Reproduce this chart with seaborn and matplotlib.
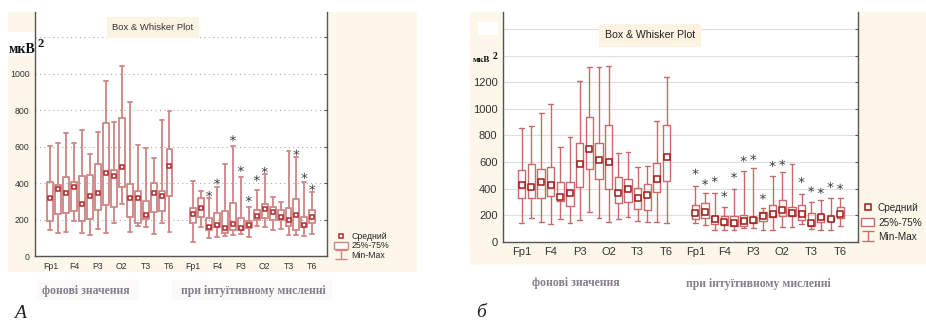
import numpy as np
import pandas as pd
import matplotlib
matplotlib.use('Agg')
import matplotlib.pyplot as plt
import seaborn as sns
from matplotlib.patches import Rectangle, Patch
from matplotlib.lines import Line2D

# канали ЕЕГ (16) для кожного стану
channels = ['Fp1', 'Fp2', 'F3', 'F4', 'C3', 'C4', 'P3', 'P4',
            'O1', 'O2', 'F7', 'F8', 'T3', 'T4', 'T5', 'T6']
shown = ['Fp1', 'F4', 'P3', 'O2', 'T3', 'T6']

nan = np.nan

# ---- панель А ----
a_bg_mean = [320, 366, 347, 380, 283, 329, 347, 453, 439, 486, 320, 320, 227, 344, 329, 495]
a_bg_q1 = [194, 229, 238, 249, 190, 201, 252, 278, 271, 377, 212, 179, 203, 239, 249, 331]
a_bg_q3 = [408, 390, 435, 406, 439, 444, 503, 728, 472, 755, 393, 358, 302, 399, 358, 587]
a_bg_min = [143, 128, 133, 194, 128, 113, 150, 124, 179, 285, 133, 165, 161, 121, 179, 133]
a_bg_max = [605, 622, 675, 622, 691, 559, 682, 960, 737, 1044, 846, 609, 590, 539, 746, 795]

a_in_mean = [230, 261, 161, 170, 152, 174, 152, 170, 219, 256, 243, 212, 197, 225, 170, 216]
a_in_q1 = [179, 216, 143, 161, 128, 143, 143, 152, 197, 207, 197, 197, 166, 143, 161, 183]
a_in_q3 = [261, 316, 207, 234, 249, 289, 210, 194, 252, 283, 267, 252, 261, 311, 216, 252]
a_in_min = [79, 161, 97, 106, 110, 115, 121, 106, 165, 161, 143, 146, 115, 115, 112, 121]
a_in_max = [413, 358, 320, 380, 505, 605, 435, 267, 362, 450, 325, 298, 578, 545, 408, 353]
a_in_ext = [nan, nan, 340, 408, nan, 645, 477, 313, 426, 472, nan, nan, nan, 567, 439, 375]

# ---- панель б ----
b_bg_mean = [429, 414, 452, 424, 334, 369, 585, 700, 615, 600, 369, 397, 331, 351, 469, 640]
b_bg_q1 = [329, 329, 329, 344, 309, 269, 409, 547, 472, 399, 294, 299, 244, 239, 377, 457]
b_bg_q3 = [537, 582, 545, 565, 452, 452, 741, 941, 746, 881, 485, 475, 402, 432, 595, 881]
b_bg_min = [143, 176, 151, 133, 171, 138, 163, 226, 176, 151, 173, 188, 158, 146, 151, 143]
b_bg_max = [859, 871, 972, 1037, 711, 791, 1213, 1318, 1313, 1323, 665, 678, 565, 570, 911, 1243]

b_in_mean = [218, 226, 171, 148, 141, 156, 163, 193, 208, 239, 213, 208, 138, 183, 168, 206]
b_in_q1 = [168, 176, 133, 123, 118, 118, 143, 156, 188, 196, 193, 163, 118, 151, 158, 176]
b_in_q3 = [276, 289, 193, 193, 196, 198, 188, 221, 276, 314, 264, 276, 213, 201, 188, 259]
b_in_min = [138, 126, 88, 88, 88, 100, 100, 88, 88, 108, 113, 133, 98, 88, 88, 118]
b_in_max = [419, 364, 364, 264, 397, 532, 552, 251, 497, 522, 585, 359, 301, 314, 326, 331]
b_in_ext = [527, 447, 469, 357, 500, 623, 635, 339, 585, 595, nan, 464, 394, 382, 427, 414]

W, H = 926, 324
BEIGE = '#fdf7ea'
TXT = '#857e8e'

sns.set_style('white')
plt.rcParams['font.family'] = ['Liberation Sans', 'DejaVu Sans']

fig = plt.figure(figsize=(W / 100, H / 100), dpi=100)


def rect(x, y, w, h):
    return [x / W, 1 - (y + h) / H, w / W, h / H]


def bg(x, y, w, h, color):
    r = rect(x, y, w, h)
    fig.add_artist(Rectangle((r[0], r[1]), r[2], r[3], transform=fig.transFigure,
                             facecolor=color, edgecolor='none', zorder=-10))


def panel(ax, parts, ext, lc, lw, mc, ms, fs, ytop, ymax_lab, grid_style):
    pos = list(range(16)) + list(range(18, 34))
    mean = parts[0][0] + parts[1][0]
    q1 = parts[0][1] + parts[1][1]
    q3 = parts[0][2] + parts[1][2]
    lo = parts[0][3] + parts[1][3]
    hi = parts[0][4] + parts[1][4]
    stats = [dict(med=m, q1=a, q3=b, whislo=c, whishi=d, fliers=[])
             for m, a, b, c, d in zip(mean, q1, q3, lo, hi)]
    line = dict(color=lc, linewidth=lw)
    ax.bxp(stats, positions=pos, widths=0.75, capwidths=0.5, showfliers=False,
           boxprops=line, whiskerprops=line, capprops=line,
           medianprops=dict(visible=False), patch_artist=False, manage_ticks=False)
    df = pd.DataFrame({'pos': pos, 'mean': mean})
    sns.scatterplot(data=df, x='pos', y='mean', marker='s', s=ms, color='white',
                    edgecolor=mc, linewidth=1.1, ax=ax, zorder=5)
    de = pd.DataFrame({'pos': list(range(18, 34)), 'ext': ext}).dropna()
    sns.scatterplot(data=de, x='pos', y='ext', marker='$*$', s=20, color='#3c3c3c',
                    edgecolor='none', ax=ax, zorder=5)

    ax.set_xlim(-1.95, 34.85)
    ax.set_ylim(0, ytop)
    ticks = list(range(-1, 35))
    labels = []
    for t in ticks:
        if 0 <= t < 16 and channels[t] in shown:
            labels.append(channels[t])
        elif 18 <= t < 34 and channels[t - 18] in shown:
            labels.append(channels[t - 18])
        else:
            labels.append('')
    ax.set_xticks(ticks)
    ax.set_xticklabels(labels, fontsize=fs, color='#333333')
    yt = list(range(0, int(ytop) + 1, 200))
    ax.set_yticks(yt)
    ax.set_yticklabels([str(v) if v <= ymax_lab else '' for v in yt], fontsize=fs, color='#333333')
    ax.tick_params(axis='both', direction='in', length=2.5, width=0.8, color='#555555')
    ax.tick_params(axis='x', pad=4)
    ax.tick_params(axis='y', pad=4, right=True)
    ax.grid(False)
    ax.yaxis.grid(True, **grid_style)
    ax.set_axisbelow(True)
    ax.set_xlabel('')
    ax.set_ylabel('')
    for s in ['left', 'bottom', 'right']:
        ax.spines[s].set_visible(True)
        ax.spines[s].set_color('#555555')
        ax.spines[s].set_linewidth(1.0)
    ax.spines['top'].set_visible(False)
    ax.set_facecolor('white')


def legend(ax, x, y, lc, mc, fs, ms, hl, sp):
    eb = ax.errorbar([np.nan], [np.nan], yerr=[1], fmt='none', ecolor=lc,
                     elinewidth=1.0, capsize=4, capthick=1.0)
    handles = [Line2D([], [], ls='none', marker='s', markersize=ms, markerfacecolor='white',
                      markeredgecolor=mc, markeredgewidth=1.1),
               Patch(facecolor='white', edgecolor=lc, linewidth=1.0),
               eb]
    fig.legend(handles, ['Средний', '25%-75%', 'Min-Max'], loc='upper left',
               bbox_to_anchor=(x / W, 1 - y / H), frameon=False, fontsize=fs,
               handlelength=hl, handleheight=0.9, handletextpad=0.4,
               labelspacing=sp, borderpad=0, borderaxespad=0)


# фон
bg(8, 12, 409, 260, BEIGE)
bg(470, 12, 456, 253, BEIGE)
bg(8, 32, 27, 24, 'white')
bg(478, 22, 20, 13, 'white')
bg(38, 280, 100, 20, '#fbfaf8')
bg(172, 280, 160, 20, '#fbfaf8')

# панель А
ax1 = fig.add_axes(rect(35, 12, 292, 244))
panel(ax1, [(a_bg_mean, a_bg_q1, a_bg_q3, a_bg_min, a_bg_max),
            (a_in_mean, a_in_q1, a_in_q3, a_in_min, a_in_max)],
      a_in_ext, '#d28c8c', 1.4, '#b02a2a', 12, 6.3, 1338, 1000,
      dict(color='#aaaaaa', linestyle=(0, (1, 3)), linewidth=0.8))
legend(ax1, 334, 232, '#cf8585', '#b02a2a', 6.3, 3.5, 1.6, 0.05)

# панель б
ax2 = fig.add_axes(rect(503, 12, 355, 229.7))
panel(ax2, [(b_bg_mean, b_bg_q1, b_bg_q3, b_bg_min, b_bg_max),
            (b_in_mean, b_in_q1, b_in_q3, b_in_min, b_in_max)],
      b_in_ext, '#c96a6a', 1.0, '#a01818', 18, 8, 1730, 1200,
      dict(color='#dedede', linestyle='-', linewidth=0.8))
legend(ax2, 861, 203, '#c96a6a', '#a01818', 7.2, 4, 1.3, 0.45)

# заголовки
fig.text(153 / W, 1 - 27.5 / H, 'Box & Whisker Plot', fontsize=6.8, color='#333333',
         ha='center', va='center',
         bbox=dict(boxstyle='square,pad=0.6', facecolor='#fcf3e2', edgecolor='none'))
fig.text(650 / W, 1 - 35.5 / H, 'Box & Whisker Plot', fontsize=7.6, color='#222222',
         ha='center', va='center',
         bbox=dict(boxstyle='square,pad=0.6', facecolor='#fcf3e2', edgecolor='none'))

# одиниці
serif = ['Liberation Serif', 'DejaVu Serif']
fig.text(9 / W, 1 - 53 / H, 'мкВ', fontsize=10, fontweight='bold', color='#111111',
         family=serif, ha='left', va='baseline')
fig.text(38 / W, 1 - 47 / H, '2', fontsize=9, fontweight='bold', color='#111111',
         family=serif, ha='left', va='baseline')
fig.text(473 / W, 1 - 62 / H, 'мкВ', fontsize=6.5, fontweight='bold', color='#111111',
         family=serif, ha='left', va='baseline')
fig.text(493 / W, 1 - 59 / H, '2', fontsize=7, fontweight='bold', color='#111111',
         family=serif, ha='left', va='baseline')

# підписи груп
fig.text(86 / W, 1 - 291 / H, 'фонові значення', fontsize=8.5, fontweight='bold',
         color=TXT, family=serif, ha='center', va='center')
fig.text(253 / W, 1 - 291 / H, 'при інтуїтивному мисленні', fontsize=8.5, fontweight='bold',
         color=TXT, family=serif, ha='center', va='center')
fig.text(576 / W, 1 - 283 / H, 'фонові значення', fontsize=8.5, fontweight='bold',
         color=TXT, family=serif, ha='center', va='center')
fig.text(758 / W, 1 - 284 / H, 'при інтуїтивному мисленні', fontsize=8.5, fontweight='bold',
         color=TXT, family=serif, ha='center', va='center')

fig.text(14 / W, 1 - 318 / H, 'А', fontsize=14, style='italic', color='#222222',
         family=serif, ha='left', va='baseline')
fig.text(476 / W, 1 - 317 / H, 'б', fontsize=14, style='italic', color='#222222',
         family=serif, ha='left', va='baseline')

fig.savefig('out.png', dpi=100, facecolor='white')
